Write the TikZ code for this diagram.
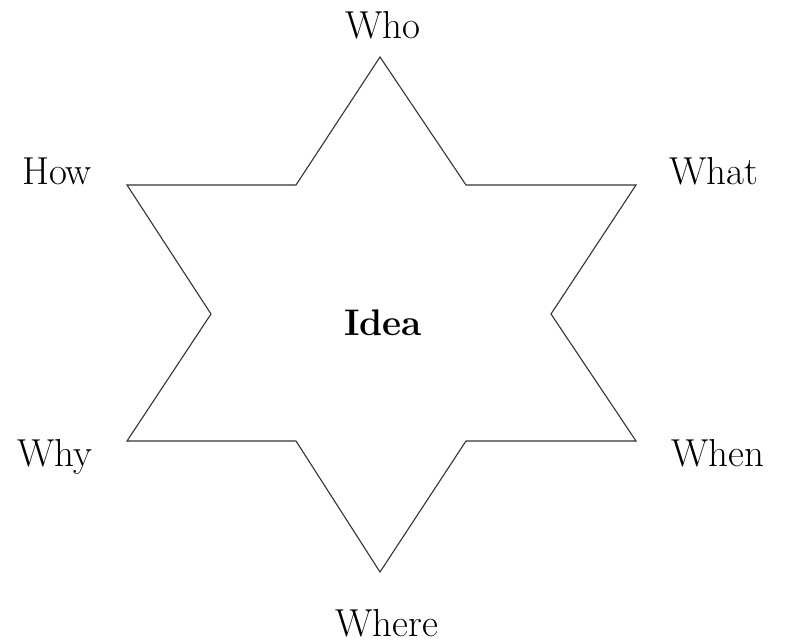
\documentclass[tikz,border=0pt]{standalone}
\begin{document}
\begin{tikzpicture}[x=1pt,y=-1pt,
  lbl/.style={anchor=base,inner sep=0pt,font=\fontsize{39}{44}\selectfont},
  star/.style={draw=black!80,line width=1.1pt,line join=miter}]
\useasboundingbox (0,0) rectangle (786,644);
\coordinate (p1) at (380,57);
\coordinate (i1) at (466,185);
\coordinate (p2) at (636,185);
\coordinate (i2) at (551,314);
\coordinate (p3) at (636,441);
\coordinate (i3) at (466,441);
\coordinate (p4) at (380,572);
\coordinate (i4) at (296,441);
\coordinate (p5) at (127,441);
\coordinate (i5) at (211,314);
\coordinate (p6) at (127,185);
\coordinate (i6) at (296,185);
\draw[star] (p1) -- (i1) -- (p2) -- (i2) -- (p3) -- (i3) -- (p4) -- (i4) -- (p5) -- (i5) -- (p6) -- (i6) -- cycle;
\node[lbl] (who) at (383,39) {Who};
\node[lbl] (how) at (57,185) {How};
\node[lbl] (what) at (714,185) {What};
\node[lbl] (why) at (55,466) {Why};
\node[lbl] (when) at (718,466) {When};
\node[lbl] (where) at (387,636) {Where};
\node[lbl,font=\fontsize{37}{42}\selectfont\bfseries] (idea) at (383,335) {Idea};
\end{tikzpicture}
\end{document}
